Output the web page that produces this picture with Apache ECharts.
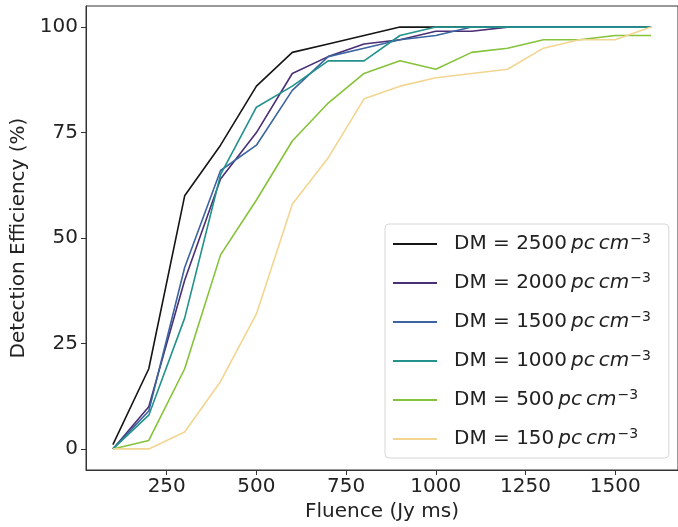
<!DOCTYPE html>
<html>
<head>
<meta charset="utf-8">
<script src="https://cdn.jsdelivr.net/npm/echarts@6/dist/echarts.min.js"></script>
<style>html,body{margin:0;padding:0;background:#fff}#c{width:678px;height:527px}</style>
</head>
<body>
<div id="c"></div>
<script>
const fluence = [100,200,300,400,500,600,700,800,900,1000,1100,1200,1300,1400,1500,1600];
const dmLabels = ['2500','2000','1500','1000','500','150'];
const dm2500 = [1,19,60,72,86,94,96,98,100,100,100,100,100,100,100,100];
const dm2000 = [0,10,40,64,75,89,93,96,97,99,99,100,100,100,100,100];
const dm1500 = [0,9,43,66,72,85,93,95,97,98,100,100,100,100,100,100];
const dm1000 = [0,8,31,65,81,86,92,92,98,100,100,100,100,100,100,100];
const dm500  = [0,2,19,46,59,73,82,89,92,90,94,95,97,97,98,98];
const dm150  = [0,0,4,16,32,58,69,83,86,88,89,90,95,97,97,100];
const xTicks = [250,500,750,1000,1250,1500];
const yTicks = [0,25,50,75,100];
const colors = ['#151515','#4a2f75','#3b64a0','#23918c','#86c23a','#f2d591'];
const allData = [dm2500, dm2000, dm1500, dm1000, dm500, dm150];

const FONT = 'DejaVu Sans';
const series = allData.map((d, i) => ({
  name: 'DM = ' + dmLabels[i],
  type: 'line',
  data: d.map((v, j) => [fluence[j], v]),
  showSymbol: false,
  symbol: 'none',
  lineStyle: { color: colors[i], width: 1.6 },
  itemStyle: { color: colors[i] },
  emphasis: { disabled: true },
  animation: false
}));

const chart = echarts.init(document.getElementById('c'), null, { renderer: 'canvas' });
chart.setOption({
  animation: false,
  grid: { left: 86, right: -2, top: 6, bottom: 57, show: true, borderColor: '#333', borderWidth: 1, backgroundColor: 'transparent' },
  xAxis: {
    type: 'value', min: 25, max: 1675,
    name: 'Fluence (Jy ms)', nameLocation: 'middle', nameGap: 30,
    nameTextStyle: { fontFamily: FONT, fontSize: 20, color: '#222' },
    axisLine: { show: true, onZero: false, lineStyle: { color: '#333', width: 1 } },
    axisTick: { show: true, length: 5, customValues: xTicks, lineStyle: { color: '#333' } },
    axisLabel: { customValues: xTicks, formatter: v => String(v), fontFamily: FONT, fontSize: 20, color: '#222', margin: 7 },
    splitLine: { show: false }
  },
  yAxis: {
    type: 'value', min: -5, max: 105,
    name: 'Detection Efficiency (%)', nameLocation: 'middle', nameGap: 49, nameRotate: 90,
    nameTextStyle: { fontFamily: FONT, fontSize: 20, color: '#222' },
    axisLine: { show: true, onZero: false, lineStyle: { color: '#333', width: 1 } },
    axisTick: { show: true, length: 5, customValues: yTicks, lineStyle: { color: '#333' } },
    axisLabel: { customValues: yTicks, formatter: v => String(v), fontFamily: FONT, fontSize: 20, color: '#222', margin: 8 },
    splitLine: { show: false }
  },
  legend: {
    orient: 'vertical', left: 385, top: 224,
    backgroundColor: 'rgba(255,255,255,0.9)',
    borderColor: '#d6d6d6', borderWidth: 1, borderRadius: 4,
    padding: [8, 18, 8, 8],
    itemGap: 16,
    itemWidth: 44, itemHeight: 2,
    icon: 'rect',
    data: series.map(s => s.name),
    formatter: function (name) {
      return '{a|' + name + '\u2009}{i|pc\u2009cm}{s|\u22123}';
    },
    textStyle: {
      fontFamily: FONT, fontSize: 20, color: '#222',
      rich: {
        a: { fontFamily: FONT, fontSize: 20, color: '#222', lineHeight: 24, padding: [0, 0, 0, 12] },
        i: { fontFamily: FONT, fontSize: 20, fontStyle: 'italic', color: '#222', lineHeight: 24 },
        s: { fontFamily: FONT, fontSize: 14, color: '#222', lineHeight: 24, verticalAlign: 'top', padding: [0, 0, 9, 1] }
      }
    }
  },
  series: series
});
</script>
</body>
</html>
